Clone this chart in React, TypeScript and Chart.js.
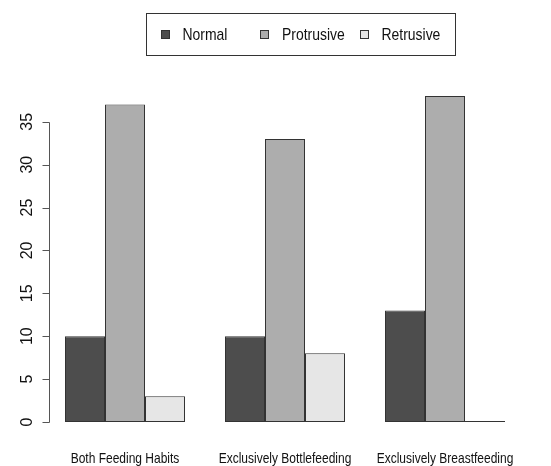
import React, { useEffect, useRef } from "react";
import { Chart, registerables } from "chart.js";

Chart.register(...registerables);

// ---------- data ----------
const categories = ["Both Feeding Habits", "Exclusively Bottlefeeding", "Exclusively Breastfeeding"];
const seriesNames = ["Normal", "Protrusive", "Retrusive"];
const normalValues = [10, 10, 13];
const protrusiveValues = [37, 33, 38];
const retrusiveValues = [3, 8, 0];
const yTickValues = [0, 5, 10, 15, 20, 25, 30, 35];
const seriesColors = ["#4D4D4D", "#ADADAD", "#E6E6E6"];

// R-style axis range: 4% extension of [0, max]
const dataMax = Math.max(...normalValues, ...protrusiveValues, ...retrusiveValues);
const yExt = dataMax * 0.04;

const FONT = '"Liberation Sans", Arial, Helvetica, sans-serif';

function squeezedText(ctx: CanvasRenderingContext2D, text: string, x: number, y: number, sx: number) {
  ctx.save();
  ctx.translate(x, y);
  ctx.scale(sx, 1);
  ctx.fillText(text, 0, 0);
  ctx.restore();
}

const rStylePlugin = {
  id: "rStyle",
  afterDatasetsDraw(chart: any) {
    // zero-height bars are drawn by R as a flat line
    const ctx = chart.ctx;
    ctx.save();
    ctx.strokeStyle = "#333";
    ctx.lineWidth = 1;
    chart.data.datasets.forEach((ds: any, i: number) => {
      const meta = chart.getDatasetMeta(i);
      meta.data.forEach((el: any, j: number) => {
        if (ds.data[j] === 0) {
          const p = el.getProps(["x", "width", "base"], true);
          const yy = Math.round(p.base) - 0.5;
          ctx.beginPath();
          ctx.moveTo(p.x - p.width / 2, yy);
          ctx.lineTo(p.x + p.width / 2, yy);
          ctx.stroke();
        }
      });
    });
    ctx.restore();
  },
  afterDraw(chart: any) {
    const ctx = chart.ctx;
    const area = chart.chartArea;
    const ys = chart.scales.y;
    const xs = chart.scales.x;
    ctx.save();

    // y axis (only spanning the tick range, like R)
    const axisX = Math.round(area.left + 4) + 0.5;
    const yTop = Math.round(ys.getPixelForValue(yTickValues[yTickValues.length - 1])) + 0.5;
    const yBot = Math.round(ys.getPixelForValue(yTickValues[0])) + 0.5;
    ctx.strokeStyle = "#555";
    ctx.lineWidth = 1;
    ctx.beginPath();
    ctx.moveTo(axisX, yTop);
    ctx.lineTo(axisX, yBot);
    yTickValues.forEach((v) => {
      const py = Math.round(ys.getPixelForValue(v)) + 0.5;
      ctx.moveTo(axisX, py);
      ctx.lineTo(axisX - 7, py);
    });
    ctx.stroke();

    // y tick labels, rotated (R las = 0)
    ctx.fillStyle = "#111";
    ctx.font = "16px " + FONT;
    ctx.textAlign = "center";
    ctx.textBaseline = "middle";
    yTickValues.forEach((v) => {
      const py = ys.getPixelForValue(v);
      ctx.save();
      ctx.translate(axisX - 22, py);
      ctx.rotate(-Math.PI / 2);
      ctx.fillText(String(v), 0, 0);
      ctx.restore();
    });

    // category labels
    ctx.font = "15px " + FONT;
    categories.forEach((c, i) => {
      squeezedText(ctx, c, xs.getPixelForValue(i), area.bottom + 24, 0.8);
    });

    // legend box (R legend, horizontal)
    const boxLeft = 146.5;
    const boxTop = 13.5;
    const boxW = 309;
    const boxH = 42;
    ctx.strokeStyle = "#333";
    ctx.strokeRect(boxLeft, boxTop, boxW, boxH);
    ctx.font = "17px " + FONT;
    ctx.textAlign = "left";
    ctx.textBaseline = "middle";
    const cy = boxTop + boxH / 2;
    chart.data.datasets.forEach((ds: any, i: number) => {
      const sx = boxLeft + 14 + i * 99.5;
      ctx.fillStyle = ds.backgroundColor;
      ctx.fillRect(Math.round(sx), Math.round(cy - 4.5), 9, 9);
      ctx.strokeStyle = "#333";
      ctx.strokeRect(Math.round(sx) + 0.5, Math.round(cy - 4.5) + 0.5, 8, 8);
      ctx.fillStyle = "#111";
      squeezedText(ctx, ds.label, sx + 22, cy + 1, 0.82);
    });

    ctx.restore();
  },
};

export default function App() {
  const canvasRef = useRef<HTMLCanvasElement | null>(null);

  useEffect(() => {
    const canvas = canvasRef.current;
    if (!canvas) return;
    const seriesValues = [normalValues, protrusiveValues, retrusiveValues];
    const chart = new Chart(canvas, {
      type: "bar",
      data: {
        labels: categories,
        datasets: seriesNames.map((name, i) => ({
          label: name,
          data: seriesValues[i],
          backgroundColor: seriesColors[i],
          borderColor: "#333",
          borderWidth: 1,
          borderSkipped: false,
          categoryPercentage: 0.75,
          barPercentage: 1,
        })),
      },
      options: {
        animation: false,
        responsive: false,
        devicePixelRatio: 1,
        layout: { padding: { left: 45, right: 26, top: 83, bottom: 31 } },
        plugins: {
          legend: { display: false },
          tooltip: { enabled: false },
        },
        scales: {
          x: { type: "category", display: false, offset: true },
          y: {
            type: "linear",
            display: false,
            min: -yExt,
            max: dataMax + yExt,
            afterBuildTicks: (axis: any) => {
              axis.ticks = yTickValues.map((v) => ({ value: v }));
            },
          },
        },
      },
      plugins: [rStylePlugin],
    } as any);
    return () => chart.destroy();
  }, []);

  return (
    <div style={{ position: "fixed", left: 0, top: 0, width: 551, height: 466, background: "#fff" }}>
      <canvas ref={canvasRef} width={551} height={466} style={{ display: "block" }} />
    </div>
  );
}
